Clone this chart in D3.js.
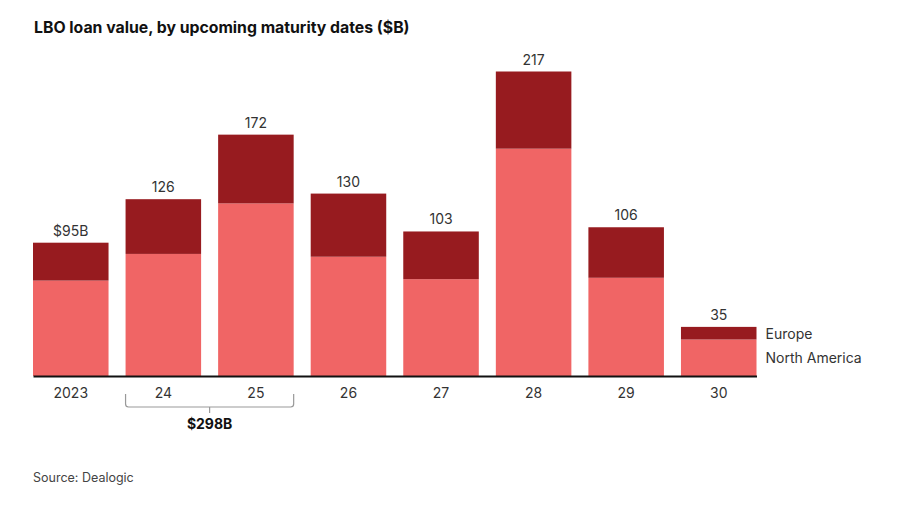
<!DOCTYPE html>
<html>
<head>
<meta charset="utf-8">
<script src="https://cdn.jsdelivr.net/npm/d3@7"></script>
<style>
  body { margin: 0; background: #fff; }
  text { font-family: Inter, "Open Sans", sans-serif; }
</style>
</head>
<body>
<div id="container"></div>
<script>
/* CONSTANTS AND GLOBALS */
const width = 900,
  height = 506;

/* DATA */
const years = ["2023", "24", "25", "26", "27", "28", "29", "30"];
const northAmerica = [68, 87, 123, 85, 69, 162, 70, 26];
const europe = [27, 39, 49, 45, 34, 55, 36, 9];
const totalLabels = ["$95B", "126", "172", "130", "103", "217", "106", "35"];
const seriesNames = ["North America", "Europe"];
const bracketYears = ["24", "25"];
const bracketLabel = "$298B";

const rows = years.map((y, i) => ({
  year: y,
  "North America": northAmerica[i],
  "Europe": europe[i],
  label: totalLabels[i]
}));

/* SCALES */
const xScale = d3.scaleBand()
  .domain(years)
  .range([33, 756.5])
  .paddingInner(0.184)
  .paddingOuter(0);

const yScale = d3.scaleLinear()
  .domain([0, 217])
  .range([376, 71.5]);

const colorScale = d3.scaleOrdinal()
  .domain(seriesNames)
  .range(["#f06565", "#971b1f"]);

const stacked = d3.stack().keys(seriesNames)(rows);

/* HTML ELEMENTS */
const svg = d3.select("#container")
  .append("svg")
  .attr("width", width)
  .attr("height", height);

// title
svg.append("text")
  .attr("x", 34)
  .attr("y", 33)
  .attr("font-size", 15.8)
  .attr("font-weight", 700)
  .attr("fill", "#111")
  .text("LBO loan value, by upcoming maturity dates ($B)");

// bars
svg.append("g")
  .selectAll("g")
  .data(stacked)
  .join("g")
  .attr("fill", d => colorScale(d.key))
  .selectAll("rect")
  .data(d => d)
  .join("rect")
  .attr("x", d => xScale(d.data.year))
  .attr("width", xScale.bandwidth())
  .attr("y", d => yScale(d[1]))
  .attr("height", d => yScale(d[0]) - yScale(d[1]));

// totals
svg.append("g")
  .selectAll("text")
  .data(rows)
  .join("text")
  .attr("x", d => xScale(d.year) + xScale.bandwidth() / 2)
  .attr("y", d => yScale(d["North America"] + d["Europe"]) - 7)
  .attr("text-anchor", "middle")
  .attr("font-size", 14)
  .attr("fill", "#333")
  .text(d => d.label);

// x axis
const xAxis = d3.axisBottom(xScale).tickSize(0).tickPadding(12);
const gx = svg.append("g")
  .attr("transform", "translate(0, 376)")
  .call(xAxis);
gx.select(".domain")
  .attr("stroke", "#111")
  .attr("stroke-width", 2);
gx.selectAll("text")
  .attr("font-size", 14)
  .attr("fill", "#333")
  .style("font-family", "Inter, 'Open Sans', sans-serif");

// bracket under 24-25
const bx0 = xScale(bracketYears[0]),
  bx1 = xScale(bracketYears[1]) + xScale.bandwidth(),
  bmid = (bx0 + bx1) / 2,
  by0 = 394, by1 = 407, r = 3;
svg.append("path")
  .attr("d", `M${bx0},${by0} V${by1 - r} Q${bx0},${by1} ${bx0 + r},${by1} H${bx1 - r} Q${bx1},${by1} ${bx1},${by1 - r} V${by0} M${bmid},${by1} V${by1 + 6}`)
  .attr("fill", "none")
  .attr("stroke", "#999")
  .attr("stroke-width", 1.2);
svg.append("text")
  .attr("x", bmid)
  .attr("y", 429)
  .attr("text-anchor", "middle")
  .attr("font-size", 14)
  .attr("font-weight", 700)
  .attr("fill", "#111")
  .text(bracketLabel);

// legend next to the last bar
svg.append("g")
  .selectAll("text")
  .data(seriesNames)
  .join("text")
  .attr("x", xScale.range()[1] + 9)
  .attr("y", d => d === "Europe" ? 338.5 : 362.5)
  .attr("font-size", 14)
  .attr("fill", "#333")
  .text(d => d);

// source
svg.append("text")
  .attr("x", 33)
  .attr("y", 482)
  .attr("font-size", 12.5)
  .attr("fill", "#444")
  .text("Source: Dealogic");
</script>
</body>
</html>
